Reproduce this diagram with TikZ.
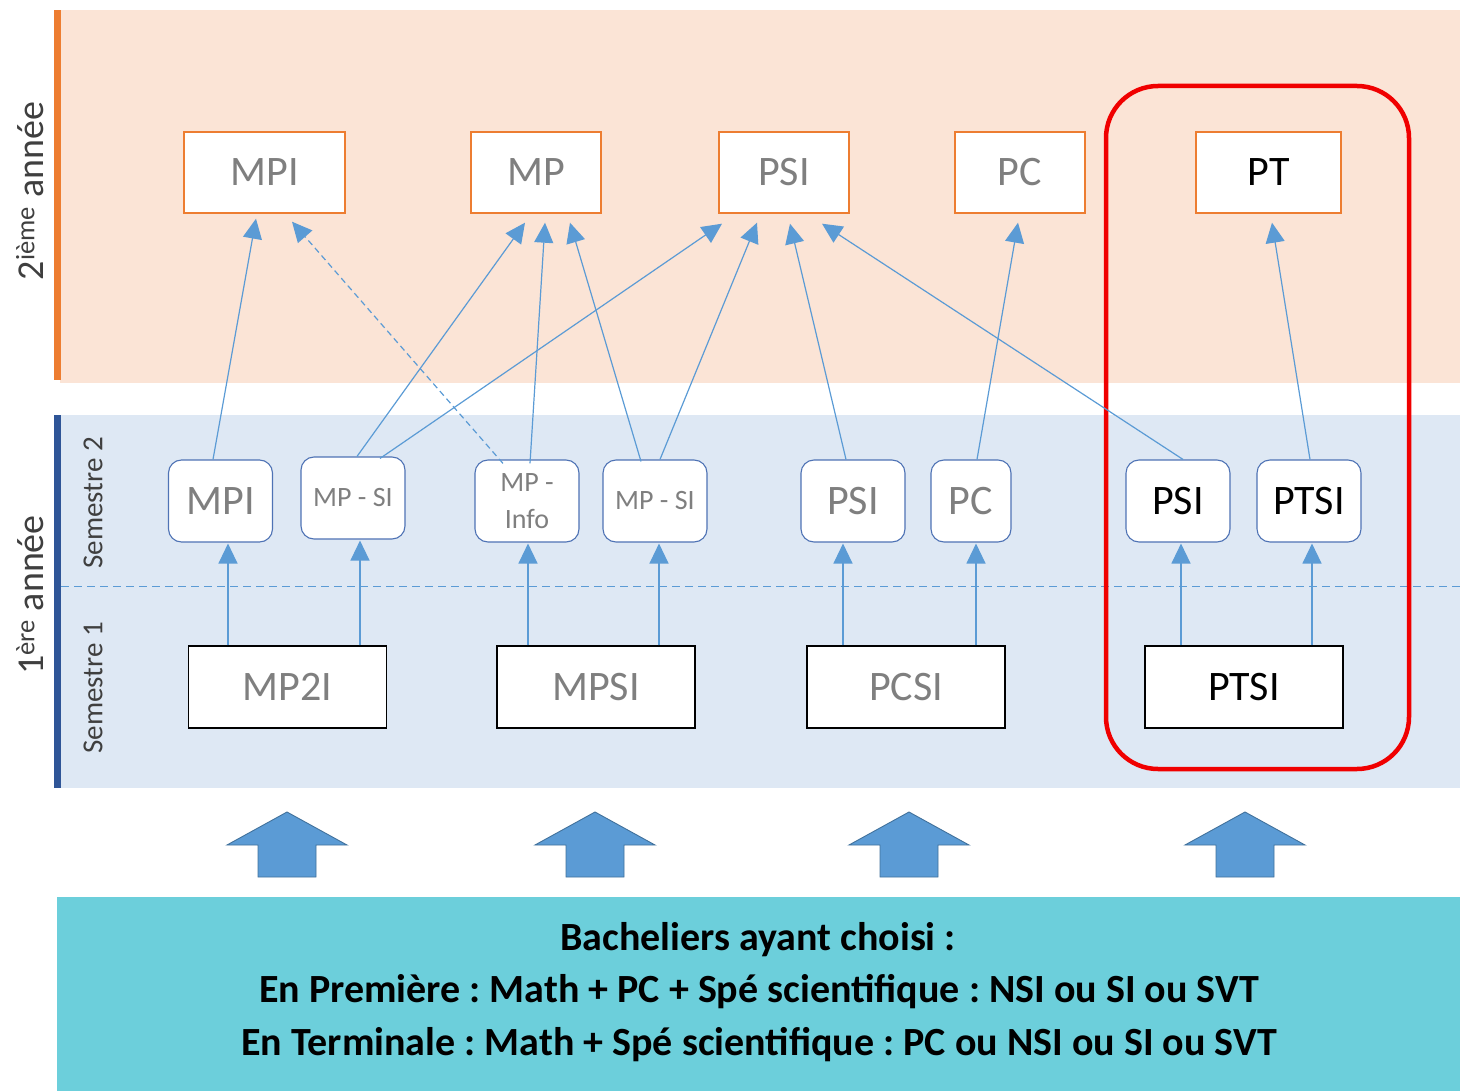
\documentclass[tikz,border=0pt]{standalone}
\usepackage{fontspec}
\setmainfont{Carlito}
\frenchspacing
\usetikzlibrary{arrows.meta,calc}
\definecolor{peach}{HTML}{FBE4D6}
\definecolor{paleblue}{HTML}{DEE8F4}
\definecolor{barorange}{HTML}{ED7D31}
\definecolor{barblue}{HTML}{2F5597}
\definecolor{boxorange}{HTML}{ED7D31}
\definecolor{boxblue}{HTML}{4F73B5}
\definecolor{linkblue}{HTML}{5B9BD5}
\definecolor{greytext}{HTML}{7F7F7F}
\definecolor{darktext}{HTML}{3F3F3F}
\definecolor{teal}{HTML}{6CCFDB}
\definecolor{blockedge}{HTML}{41719C}
\definecolor{groupred}{HTML}{F00000}
\begin{document}
\begin{tikzpicture}[x=1pt,y=-1pt,
  yeartwo/.style={draw=boxorange, line width=1.4pt, fill=white, minimum width=130pt,
    minimum height=81pt, inner sep=0pt, text=greytext, font=\fontsize{42}{48}\selectfont},
  semtwo/.style={draw=boxblue, line width=1.1pt, rounded corners=13pt, fill=white,
    minimum width=104pt, minimum height=82pt, inner sep=0pt, text=greytext,
    font=\fontsize{42}{48}\selectfont},
  small/.style={font=\fontsize{28}{37}\selectfont, align=center},
  semone/.style={draw=black, line width=1.5pt, fill=white, minimum width=198pt,
    minimum height=82pt, inner sep=0pt, text=greytext, font=\fontsize{42}{48}\selectfont},
  link/.style={draw=linkblue, line width=1.2pt, -{Triangle[width=19pt,length=20pt]}},
  blockarrow/.style={fill=linkblue, draw=blockedge, line width=0.9pt},
  sidelabel/.style={rotate=90, text=darktext, inner sep=0pt},
  baclabel/.style={font=\fontsize{40}{46}\selectfont\bfseries, text=black, inner sep=0pt}
]
\useasboundingbox (0,0) rectangle (1460,1091);

% bands for the two years
\fill[peach] (60,10) rectangle (1460,383);
\fill[paleblue] (60,415) rectangle (1460,788);
\fill[barorange] (54,10) rectangle (61,380);
\fill[barblue] (54,415) rectangle (61,788);
\draw[linkblue, line width=0.9pt, dash pattern=on 8pt off 5pt] (61,586) -- (1460,586);

% year and semester labels
\node[sidelabel, font=\fontsize{38}{44}\selectfont] (lab2) at (30,191) {2\textsuperscript{ième} année};
\node[sidelabel, font=\fontsize{38}{44}\selectfont] (lab1) at (30,595) {1\textsuperscript{ère} année};
\node[sidelabel, font=\fontsize{29}{34}\selectfont] (sem2) at (93,503) {Semestre 2};
\node[sidelabel, font=\fontsize{29}{34}\selectfont] (sem1) at (93,688) {Semestre 1};

% bottom block: prerequisites
\fill[teal] (57,897) rectangle (1460,1091);
\node[baclabel] (bac1) at (758,940) {Bacheliers ayant choisi :};
\node[baclabel] (bac2) at (759,992) {En Première : Math + PC + Spé scientifique : NSI ou SI ou SVT};
\node[baclabel] (bac3) at (759,1045) {En Terminale : Math + Spé scientifique : PC ou NSI ou SI ou SVT};

% broad entry arrows
\foreach \cx in {287,595,909,1245}{
  \draw[blockarrow] (\cx-60,845) -- (\cx,812) -- (\cx+60,845) -- (\cx+29,845)
    -- (\cx+29,877) -- (\cx-29,877) -- (\cx-29,845) -- cycle;
}

% PT track frame
\draw[groupred, line width=4.5pt, rounded corners=52pt] (1106,86) rectangle (1409,769);

% second year
\node[yeartwo, minimum width=161pt] (tMPI) at (264.5,172.5) {MPI};
\node[yeartwo] (tMP) at (536,172.5) {MP};
\node[yeartwo] (tPSI) at (784,172.5) {PSI};
\node[yeartwo] (tPC) at (1020,172.5) {PC};
\node[yeartwo, minimum width=145pt, text=black] (tPT) at (1268.5,172.5) {PT};

% first year, semester 2
\node[semtwo] (sMPI) at (220.5,501) {MPI};
\node[semtwo, small] (sMPSIa) at (353,498) {MP - SI};
\node[semtwo, small] (sMPInfo) at (527,501) {MP -\\Info};
\node[semtwo, small] (sMPSIb) at (655,501) {MP - SI};
\node[semtwo] (sPSI) at (853,501) {PSI};
\node[semtwo, minimum width=80pt] (sPC) at (971,501) {PC};
\node[semtwo, text=black] (sPSIr) at (1178,501) {PSI};
\node[semtwo, text=black] (sPTSI) at (1309,501) {PTSI};

% first year, semester 1
\node[semone] (fMP2I) at (287.5,687) {MP2I};
\node[semone] (fMPSI) at (596,687) {MPSI};
\node[semone] (fPCSI) at (906,687) {PCSI};
\node[semone, text=black] (fPTSI) at (1244,687) {PTSI};

% semester 1 -> semester 2
\draw[link] ([xshift=-59.5pt]fMP2I.north) -- ([xshift=7.5pt,yshift=-1pt]sMPI.south);
\draw[link] ([xshift=72.5pt]fMP2I.north) -- ([xshift=7pt,yshift=-1pt]sMPSIa.south);
\draw[link] ([xshift=-68pt]fMPSI.north) -- ([xshift=1pt,yshift=-1pt]sMPInfo.south);
\draw[link] ([xshift=63pt]fMPSI.north) -- ([xshift=4pt,yshift=-1pt]sMPSIb.south);
\draw[link] ([xshift=-63pt]fPCSI.north) -- ([xshift=-10pt,yshift=-1pt]sPSI.south);
\draw[link] ([xshift=70pt]fPCSI.north) -- ([xshift=5pt,yshift=-1pt]sPC.south);
\draw[link] ([xshift=-63pt]fPTSI.north) -- ([xshift=3pt,yshift=-1pt]sPSIr.south);
\draw[link] ([xshift=68pt]fPTSI.north) -- ([xshift=3pt,yshift=-1pt]sPTSI.south);

% semester 2 -> second year
\draw[link] ([xshift=-7.5pt]sMPI.north) -- ([xshift=-8.5pt,yshift=-5pt]tMPI.south);
\draw[link, dash pattern=on 6pt off 4pt] ([xshift=-24pt,yshift=-4pt]sMPInfo.north) -- ([xshift=27.5pt,yshift=-8pt]tMPI.south);
\draw[link] ([xshift=4pt]sMPSIa.north) -- ([xshift=-11pt,yshift=-9pt]tMP.south);
\draw[link] ([xshift=27pt,yshift=-2pt]sMPSIa.north) -- ([xshift=-62pt,yshift=-10pt]tPSI.south);
\draw[link] ([xshift=3pt,yshift=-4pt]sMPInfo.north) -- ([xshift=9pt,yshift=-9pt]tMP.south);
\draw[link] ([xshift=-14pt,yshift=-2pt]sMPSIb.north) -- ([xshift=34pt,yshift=-9pt]tMP.south);
\draw[link] ([xshift=5pt]sMPSIb.north) -- ([xshift=-27pt,yshift=-9pt]tPSI.south);
\draw[link] ([xshift=-7pt]sPSI.north) -- ([xshift=6pt,yshift=-10pt]tPSI.south);
\draw[link] ([xshift=6pt]sPC.north) -- ([xshift=-2pt,yshift=-9pt]tPC.south);
\draw[link] ([xshift=5pt]sPSIr.north) -- ([xshift=38pt,yshift=-10pt]tPSI.south);
\draw[link] ([xshift=1pt]sPTSI.north) -- ([xshift=3.5pt,yshift=-9pt]tPT.south);
\end{tikzpicture}
\end{document}
